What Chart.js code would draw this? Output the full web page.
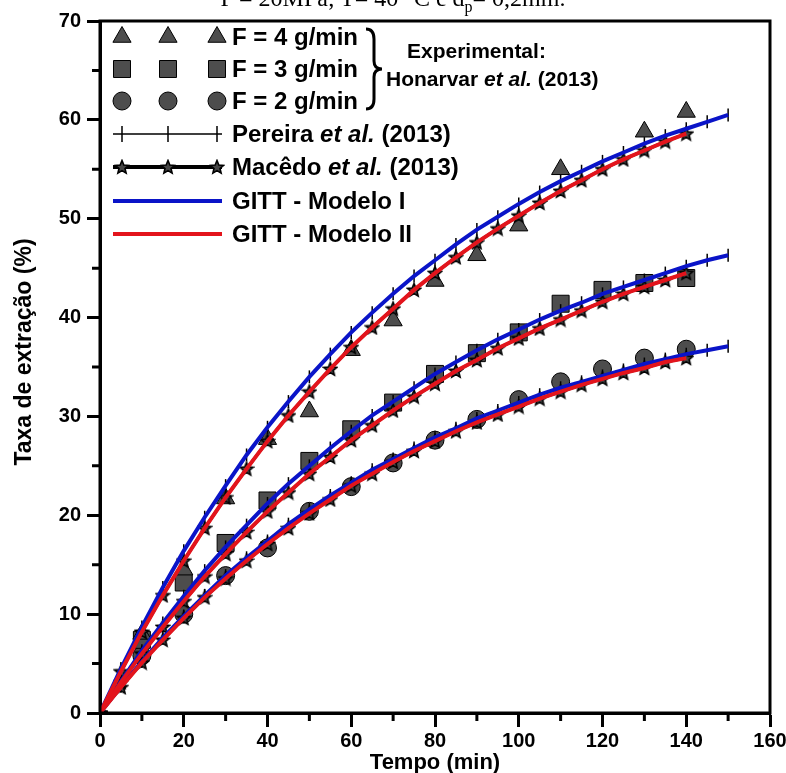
<!DOCTYPE html>
<html>
<head>
<meta charset="utf-8">
<script src="https://cdn.jsdelivr.net/npm/chart.js@4.4.1/dist/chart.umd.min.js"></script>
<style>
    html, body { margin: 0; padding: 0; background: #fff; overflow: hidden; }
    #wrap { position: relative; width: 786px; height: 773px; }
    #grafico { position: absolute; left: 0; top: 0; }
    #titulo {
        position: absolute; left: 0; top: -14px; width: 786px;
        text-align: center; white-space: nowrap;
        font: 24px 'Liberation Serif', 'DejaVu Serif', serif; line-height: 24px;
    }
    #titulo sub { font-size: 16px; line-height: 0; }
</style>
</head>
<body>
<div id="wrap">
    <canvas id="grafico" width="786" height="773"></canvas>
    <div id="titulo">P = 20MPa; T= 40 °C e d<sub>p</sub>= 0,2mm.</div>
</div>
<script>
// ==================== DADOS ====================
// Pontos experimentais (Honarvar et al., 2013)
const TEMPO_EXP = [10, 20, 30, 40, 50, 60, 70, 80, 90, 100, 110, 120, 130, 140];
const TEMPO_EXP_F4 = [10, 20, 30, 40, 50, 60, 70, 80, 90, 100, 110, 130, 140];
const EXP_F4 = [8.0, 14.5, 21.7, 27.7, 30.5, 36.7, 39.7, 43.7, 46.3, 49.3, 55.0, 58.8, 60.8];
const EXP_F3 = [7.4, 13.2, 17.2, 21.5, 25.5, 28.7, 31.4, 34.3, 36.4, 38.5, 41.4, 42.8, 43.5, 44.0];
const EXP_F2 = [5.8, 10.0, 13.9, 16.7, 20.4, 22.9, 25.3, 27.6, 29.7, 31.7, 33.5, 34.8, 35.9, 36.8];

const TEMPO_MOD = [0, 5, 10, 15, 20, 25, 30, 35, 40, 45, 50, 55, 60, 65, 70, 75,
    80, 85, 90, 95, 100, 105, 110, 115, 120, 125, 130, 135, 140, 145, 150];
const TEMPO_MOD_140 = TEMPO_MOD.slice(0, 29);

// Pereira et al. (2013) e GITT - Modelo I praticamente coincidem
const MOD_I_F4 = [0, 4.5, 8.7, 12.7, 16.4, 19.8, 23.0, 26.1, 28.9, 31.5, 34.0, 36.3, 38.5, 40.5, 42.4, 44.2,
    45.8, 47.4, 48.9, 50.2, 51.5, 52.7, 53.8, 54.8, 55.8, 56.7, 57.6, 58.4, 59.1, 59.8, 60.5];
const MOD_I_F3 = [0, 3.2, 6.3, 9.1, 11.8, 14.4, 16.8, 19.0, 21.2, 23.2, 25.0, 26.8, 28.5, 30.1, 31.5, 32.9,
    34.3, 35.5, 36.7, 37.8, 38.8, 39.8, 40.7, 41.5, 42.4, 43.1, 43.8, 44.5, 45.2, 45.8, 46.3];
const MOD_I_F2 = [0, 2.7, 5.2, 7.6, 9.8, 11.9, 13.9, 15.7, 17.4, 19.1, 20.6, 22.0, 23.3, 24.6, 25.7, 26.8,
    27.9, 28.8, 29.8, 30.6, 31.4, 32.2, 32.9, 33.5, 34.1, 34.7, 35.3, 35.8, 36.3, 36.7, 37.1];

// Macêdo et al. (2013) e GITT - Modelo II (até 140 min)
const MOD_II_F4 = [0, 4.2, 8.2, 11.9, 15.4, 18.7, 21.8, 24.7, 27.5, 30.1, 32.5, 34.8, 37.0, 39.0, 40.9,
    42.8, 44.5, 46.1, 47.6, 49.0, 50.3, 51.6, 52.8, 53.9, 55.0, 56.0, 56.9, 57.8, 58.6];
const MOD_II_F3 = [0, 3.1, 6.0, 8.7, 11.3, 13.8, 16.1, 18.3, 20.4, 22.3, 24.2, 25.9, 27.6, 29.1, 30.6,
    32.0, 33.3, 34.6, 35.7, 36.9, 37.9, 38.9, 39.8, 40.7, 41.6, 42.4, 43.1, 43.8, 44.5];
const MOD_II_F2 = [0, 2.6, 5.1, 7.4, 9.6, 11.7, 13.6, 15.4, 17.1, 18.7, 20.2, 21.6, 23.0, 24.2, 25.4,
    26.5, 27.5, 28.5, 29.4, 30.2, 31.0, 31.8, 32.5, 33.2, 33.8, 34.4, 34.9, 35.5, 35.9];

const X_TICKS = [0, 20, 40, 60, 80, 100, 120, 140, 160];
const Y_TICKS = [0, 10, 20, 30, 40, 50, 60, 70];

// ==================== ESTILO ====================
const FONTE = "'Liberation Sans', Arial, sans-serif";
const AZUL = '#0a14c8';
const VERMELHO = '#e3141c';
const CINZA = '#4d4d4d';

function pares(xs, ys) {
    return ys.map((y, i) => ({ x: xs[i], y }));
}

function criarEstrela(tam) {
    const c = document.createElement('canvas');
    c.width = tam; c.height = tam;
    const g = c.getContext('2d');
    const cx = tam / 2, cy = tam / 2 + 0.5, rExt = tam / 2 - 1, rInt = rExt * 0.45;
    g.beginPath();
    for (let i = 0; i < 10; i++) {
        const r = i % 2 === 0 ? rExt : rInt;
        const ang = -Math.PI / 2 + i * Math.PI / 5;
        g.lineTo(cx + r * Math.cos(ang), cy + r * Math.sin(ang));
    }
    g.closePath();
    g.fillStyle = '#444';
    g.fill();
    g.lineWidth = 1.6;
    g.strokeStyle = '#000';
    g.stroke();
    return c;
}
const ESTRELA = criarEstrela(16);

function serieExp(xs, ys, estilo, raio) {
    return {
        data: pares(xs, ys), showLine: false, order: 6,
        pointStyle: estilo, pointRadius: raio, pointHoverRadius: raio,
        pointBackgroundColor: CINZA, pointBorderColor: '#000', pointBorderWidth: 1,
    };
}

function seriePereira(ys) {
    return {
        data: pares(TEMPO_MOD, ys), showLine: true, order: 5,
        borderColor: '#000', borderWidth: 1.5,
        pointStyle: 'line', rotation: 90, pointRadius: 6.5,
        pointBorderColor: '#000', pointBorderWidth: 1.5,
    };
}

function serieMacedo(ys) {
    return {
        data: pares(TEMPO_MOD_140, ys), showLine: true, order: 4,
        borderColor: '#000', borderWidth: 3,
        pointStyle: ESTRELA, pointRadius: 8,
    };
}

function serieGitt(xs, ys, cor, ordem) {
    return {
        data: pares(xs, ys), showLine: true, order: ordem,
        borderColor: cor, borderWidth: 4, pointRadius: 0,
    };
}

// ticks menores (entre os maiores), moldura e título do eixo y
const moldura = {
    id: 'moldura',
    afterDraw(chart) {
        const { ctx, chartArea: a, scales } = chart;
        ctx.save();
        ctx.strokeStyle = '#000';
        ctx.lineWidth = 3;
        ctx.strokeRect(a.left, a.top, a.right - a.left, a.bottom - a.top);
        ctx.beginPath();
        for (let v = 10; v < 160; v += 20) {
            const px = scales.x.getPixelForValue(v);
            ctx.moveTo(px, a.bottom);
            ctx.lineTo(px, a.bottom + 8);
        }
        for (let v = 5; v < 70; v += 10) {
            const py = scales.y.getPixelForValue(v);
            ctx.moveTo(a.left, py);
            ctx.lineTo(a.left - 8, py);
        }
        ctx.stroke();

        ctx.translate(25, a.top + (a.bottom - a.top) / 2 - 15);
        ctx.rotate(-Math.PI / 2);
        ctx.font = 'bold 23px ' + FONTE;
        ctx.fillStyle = '#000';
        ctx.textAlign = 'center';
        ctx.textBaseline = 'middle';
        ctx.fillText('Taxa de extração (%)', 0, 0);
        ctx.restore();
    }
};

function textoMisto(ctx, partes, x, y, tam) {
    partes.forEach(([t, italico]) => {
        ctx.font = (italico ? 'italic ' : '') + 'bold ' + tam + 'px ' + FONTE;
        ctx.fillText(t, x, y);
        x += ctx.measureText(t).width;
    });
}

const legenda = {
    id: 'legenda',
    afterDatasetsDraw(chart) {
        const { ctx, chartArea: a } = chart;
        const x0 = a.left, y0 = a.top;
        const marcas = [x0 + 22, x0 + 68, x0 + 117];
        const xTexto = x0 + 132;
        const linhas = [16, 48, 80, 113, 146, 180, 213].map(v => y0 + v);
        ctx.save();
        ctx.textBaseline = 'middle';
        ctx.fillStyle = '#000';

        const simbolos = [['triangle', 10.5, 'F = 4 g/min'], ['rect', 12, 'F = 3 g/min'], ['circle', 9, 'F = 2 g/min']];
        simbolos.forEach(([estilo, raio, texto], i) => {
            marcas.forEach(mx => {
                ctx.fillStyle = CINZA;
                ctx.strokeStyle = '#000';
                ctx.lineWidth = 1;
                Chart.helpers.drawPoint(ctx, { pointStyle: estilo, radius: raio, borderWidth: 1, rotation: 0 }, mx, linhas[i]);
            });
            ctx.fillStyle = '#000';
            textoMisto(ctx, [[texto, false]], xTexto, linhas[i] + 1, 24);
        });

        // chave
        const bx = x0 + 274;
        ctx.strokeStyle = '#000';
        ctx.lineWidth = 3;
        ctx.beginPath();
        ctx.moveTo(bx - 8, linhas[0] - 8);
        ctx.quadraticCurveTo(bx, linhas[0] - 8, bx, linhas[0] + 2);
        ctx.lineTo(bx, linhas[1] - 8);
        ctx.quadraticCurveTo(bx, linhas[1], bx + 8, linhas[1]);
        ctx.quadraticCurveTo(bx, linhas[1], bx, linhas[1] + 8);
        ctx.lineTo(bx, linhas[2] - 2);
        ctx.quadraticCurveTo(bx, linhas[2] + 8, bx - 8, linhas[2] + 8);
        ctx.stroke();

        ctx.fillStyle = '#000';
        textoMisto(ctx, [['Experimental:', false]], x0 + 307, y0 + 31, 21);
        textoMisto(ctx, [['Honarvar ', false], ['et al.', true], [' (2013)', false]], x0 + 286, y0 + 59, 21);

        const xa = x0 + 13, xb = x0 + 122;
        // Pereira
        ctx.strokeStyle = '#000';
        ctx.lineWidth = 1.5;
        ctx.beginPath();
        ctx.moveTo(xa, linhas[3]); ctx.lineTo(xb, linhas[3]);
        marcas.forEach(mx => { ctx.moveTo(mx, linhas[3] - 8); ctx.lineTo(mx, linhas[3] + 8); });
        ctx.stroke();
        textoMisto(ctx, [['Pereira ', false], ['et al.', true], [' (2013)', false]], xTexto, linhas[3] + 1, 24);

        // Macêdo
        ctx.lineWidth = 4;
        ctx.beginPath();
        ctx.moveTo(xa, linhas[4]); ctx.lineTo(xb, linhas[4]);
        ctx.stroke();
        marcas.forEach(mx => ctx.drawImage(ESTRELA, mx - 8, linhas[4] - 8));
        textoMisto(ctx, [['Macêdo ', false], ['et al.', true], [' (2013)', false]], xTexto, linhas[4] + 1, 24);

        // GITT
        [[AZUL, 'GITT - Modelo I'], [VERMELHO, 'GITT - Modelo II']].forEach(([cor, texto], i) => {
            const ly = linhas[5 + i];
            ctx.strokeStyle = cor;
            ctx.lineWidth = 4;
            ctx.beginPath();
            ctx.moveTo(xa, ly); ctx.lineTo(xb, ly);
            ctx.stroke();
            ctx.fillStyle = '#000';
            textoMisto(ctx, [[texto, false]], xTexto, ly + 1, 24);
        });
        ctx.restore();
    }
};

const fonteTicks = { family: FONTE, size: 20, weight: 'bold' };
const fonteTitulo = { family: FONTE, size: 22, weight: 'bold' };

new Chart(document.getElementById('grafico'), {
    type: 'scatter',
    data: {
        datasets: [
            serieExp(TEMPO_EXP_F4, EXP_F4, 'triangle', 10.5),
            serieExp(TEMPO_EXP, EXP_F3, 'rect', 12),
            serieExp(TEMPO_EXP, EXP_F2, 'circle', 9),
            seriePereira(MOD_I_F4),
            seriePereira(MOD_I_F3),
            seriePereira(MOD_I_F2),
            serieMacedo(MOD_II_F4),
            serieMacedo(MOD_II_F3),
            serieMacedo(MOD_II_F2),
            serieGitt(TEMPO_MOD, MOD_I_F4, AZUL, 3),
            serieGitt(TEMPO_MOD, MOD_I_F3, AZUL, 3),
            serieGitt(TEMPO_MOD, MOD_I_F2, AZUL, 3),
            serieGitt(TEMPO_MOD_140, MOD_II_F4, VERMELHO, 2),
            serieGitt(TEMPO_MOD_140, MOD_II_F3, VERMELHO, 2),
            serieGitt(TEMPO_MOD_140, MOD_II_F2, VERMELHO, 2),
        ],
    },
    options: {
        responsive: false,
        animation: false,
        devicePixelRatio: 1,
        layout: { padding: { top: 21, right: 16, left: 0, bottom: 0 } },
        plugins: { legend: { display: false }, tooltip: { enabled: false } },
        scales: {
            x: {
                type: 'linear', min: 0, max: 160,
                afterFit(s) { s.height = 60; s.paddingRight = 16; },
                afterBuildTicks(s) { s.ticks = X_TICKS.map(v => ({ value: v })); },
                ticks: { font: fonteTicks, color: '#000', padding: 2 },
                grid: { drawOnChartArea: false, drawTicks: true, tickLength: 14, tickWidth: 3, tickColor: '#000' },
                border: { display: true, width: 3, color: '#000' },
                title: { display: true, text: 'Tempo (min)', font: fonteTitulo, color: '#000', padding: { top: 0, bottom: -3 } },
            },
            y: {
                type: 'linear', min: 0, max: 70,
                afterFit(s) { s.width = 100; },
                afterBuildTicks(s) { s.ticks = Y_TICKS.map(v => ({ value: v })); },
                ticks: { font: fonteTicks, color: '#000', padding: 6 },
                grid: { drawOnChartArea: false, drawTicks: true, tickLength: 13, tickWidth: 3, tickColor: '#000' },
                border: { display: true, width: 3, color: '#000' },
                title: { display: false },
            },
        },
    },
    plugins: [moldura, legenda],
});
</script>
</body>
</html>
